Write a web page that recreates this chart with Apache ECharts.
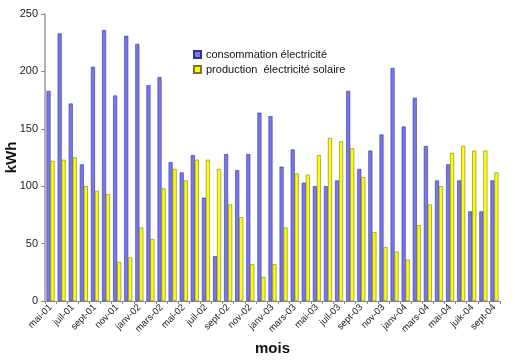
<!DOCTYPE html>
<html><head><meta charset="utf-8">
<script src="https://cdn.jsdelivr.net/npm/echarts@6/dist/echarts.min.js"></script>
<style>html,body{margin:0;padding:0;background:#fff}#c{width:515px;height:360px}</style>
</head><body><div id="c"></div>
<script>
const months = ["mai-01","juin-01","juil-01","août-01","sept-01","oct-01","nov-01","déc-01",
"janv-02","févr-02","mars-02","avr-02","mai-02","juin-02","juil-02","août-02","sept-02","oct-02","nov-02","déc-02",
"janv-03","févr-03","mars-03","avr-03","mai-03","juin-03","juil-03","août-03","sept-03","oct-03","nov-03","déc-03",
"janv-04","févr-04","mars-04","avr-04","mai-04","juin-04","juik-04","août-04","sept-04"];
const consommation = [183,233,172,119,204,236,179,231,224,188,195,121,112,127,90,39,128,114,128,164,161,117,132,103,100,100,105,183,115,131,145,203,152,177,135,105,119,105,78,78,105];
const production = [122,123,125,100,96,93,34,38,64,54,98,115,105,123,123,115,84,73,32,21,32,64,111,110,127,142,139,133,108,60,47,43,36,66,84,100,129,135,131,131,112];
const yTicks = [0,50,100,150,200,250];

const chart = echarts.init(document.getElementById('c'), null, {renderer:'canvas'});
const font = '"Liberation Sans", Arial, sans-serif';
chart.setOption({
  animation:false,
  textStyle:{fontFamily:font},
  grid:{left:45,right:15,top:14,bottom:59,containLabel:false,outerBoundsMode:'none'},
  legend:{
    orient:'vertical', left:188, top:44, itemWidth:7, itemHeight:7, itemGap:4,
    textStyle:{fontFamily:font,fontSize:11,color:'#111'},
    icon:'rect',
    data:['consommation électricité','production  électricité solaire']
  },
  xAxis:{
    type:'category', data:months,
    name:'mois', nameLocation:'middle', nameGap:39,
    nameTextStyle:{fontFamily:font,fontSize:15,fontWeight:'bold',color:'#111'},
    axisLine:{lineStyle:{color:'#888',width:1}},
    axisTick:{show:true,interval:0,length:3,lineStyle:{color:'#888'}},
    axisLabel:{interval:1,rotate:45,fontSize:9.5,color:'#222',margin:5,fontFamily:font}
  },
  yAxis:{
    type:'value', min:yTicks[0], max:yTicks[yTicks.length-1], interval:50,
    name:'kWh', nameLocation:'middle', nameGap:26, nameMoveOverlap:false,
    nameTextStyle:{fontFamily:font,fontSize:15,fontWeight:'bold',color:'#111'},
    axisLine:{show:true,lineStyle:{color:'#999',width:1.5}},
    axisTick:{show:true,length:4,lineStyle:{color:'#888'}},
    axisLabel:{fontSize:11,color:'#222',margin:7,fontFamily:font},
    splitLine:{show:false}
  },
  series:[
    {name:'consommation électricité',type:'bar',data:consommation,barGap:'0%',barCategoryGap:'28%',
     itemStyle:{color:'#7878ee',borderColor:'#33338a',borderWidth:0.6}},
    {name:'production  électricité solaire',type:'bar',data:production,
     itemStyle:{color:'#ffff00',borderColor:'#777733',borderWidth:0.6}}
  ]
});
</script></body></html>
